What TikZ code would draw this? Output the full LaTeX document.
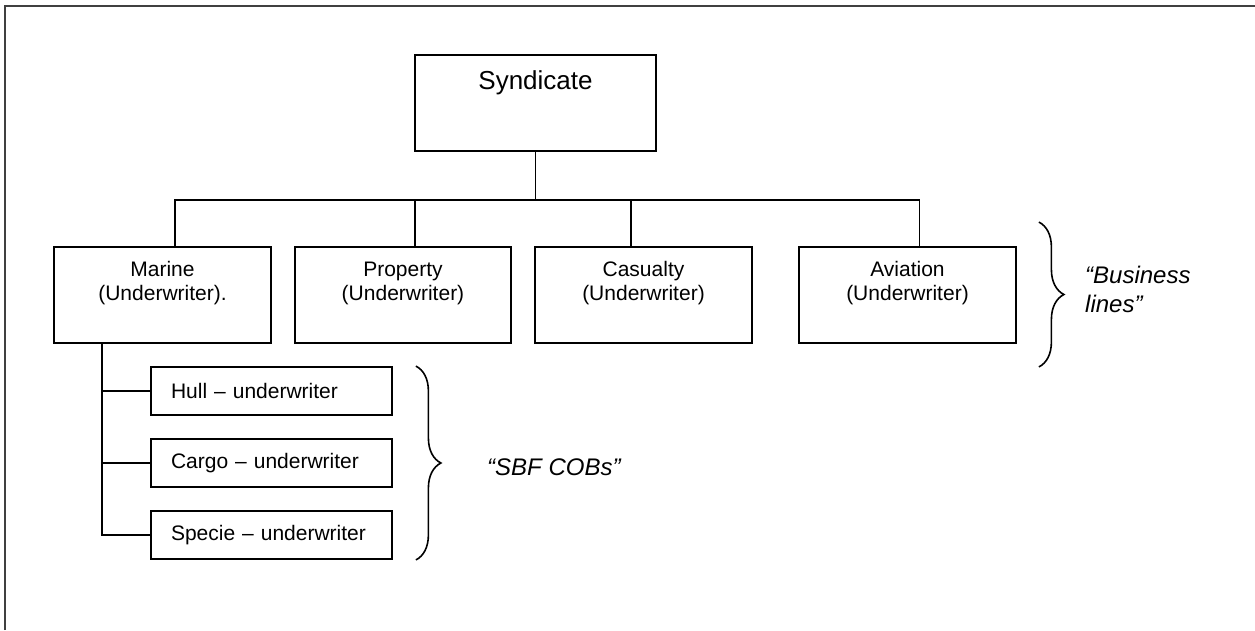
\documentclass[tikz,border=0pt]{standalone}
\usepackage{fontspec}
\setmainfont{Liberation Sans}
\usetikzlibrary{decorations.pathreplacing,calc}
\definecolor{framegray}{HTML}{404040}
\begin{document}
\begin{tikzpicture}[x=1pt,y=1pt,
  box/.style={draw, line width=1.8pt, inner sep=0pt},
  bline/.style={box, minimum width=217pt, minimum height=96pt},
  cob/.style={box, minimum width=241pt, minimum height=48pt, text width=201pt, inner xsep=20pt, align=left, font=\fontsize{21}{24}\selectfont},
  btxt/.style={align=center, inner sep=0pt, font=\fontsize{21}{24}\selectfont, yshift=12pt},
  bigtxt/.style={inner sep=0pt, font=\fontsize{26}{30}\selectfont, yshift=20pt},
  conn/.style={line width=1.8pt},
  brc/.style={line width=1.6pt, decorate, decoration={brace, amplitude=25pt}},
  note/.style={inner sep=0pt, align=left, anchor=west, font=\fontsize{24}{29}\itshape\selectfont}
]
\useasboundingbox (0,0) rectangle (1255,-630);
\draw[line width=2.2pt, framegray] (5,-630) -- (5,-6) -- (1255,-6);

\node[box, minimum width=241pt, minimum height=96pt, label={[bigtxt]center:Syndicate}] (syn) at (535.5,-103) {};

\node[bline, label={[btxt]center:Marine\\(Underwriter).}] (marine) at (162.5,-295) {};
\node[bline, minimum width=216pt, label={[btxt]center:Property\\(Underwriter)}] (property) at (403,-295) {};
\node[bline, label={[btxt]center:Casualty\\(Underwriter)}] (casualty) at (643.5,-295) {};
\node[bline, label={[btxt]center:Aviation\\(Underwriter)}] (aviation) at (907.5,-295) {};

\node[cob] (hull) at (271.5,-391) {Hull – underwriter};
\node[cob] (cargo) at (271.5,-463) {Cargo – underwriter};
\node[cob] (specie) at (271.5,-535) {Specie – underwriter};

\coordinate (bar) at ($(syn.south)+(0,-48)$);
\coordinate (ms) at ($(marine.north)+(12.5,0)$);
\coordinate (ps) at ($(property.north)+(12,0)$);
\coordinate (cs) at ($(casualty.north)+(-12.5,0)$);
\coordinate (as) at ($(aviation.north)+(12,0)$);
\draw[conn] (syn.south) -- (bar);
\draw[conn] (ms) |- (bar) -| (as);
\draw[conn] (ps) -- (ps |- bar);
\draw[conn] (cs) -- (cs |- bar);

\coordinate (sp) at ($(marine.south west)+(49,0)$);
\draw[conn] (sp) |- (specie.west);
\draw[conn] (hull.west) -- (hull.west -| sp);
\draw[conn] (cargo.west) -- (cargo.west -| sp);

\draw[brc] ($(hull.north east)+(23,0)$) -- ($(specie.south east)+(23,0)$);
\draw[brc] ($(aviation.north east)+(22,24)$) -- ($(aviation.south east)+(22,-23)$);

\node[note] (sbf) at (487,-467) {“SBF COBs”};
\node[note] (bl) at (1085,-289) {“Business\\lines”};
\end{tikzpicture}
\end{document}
